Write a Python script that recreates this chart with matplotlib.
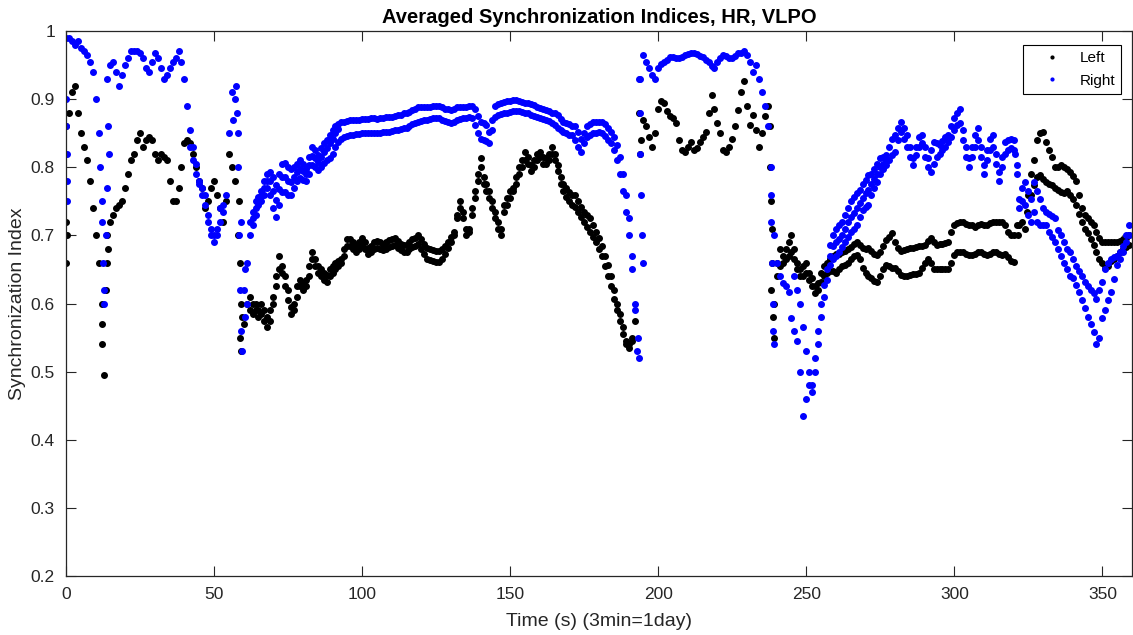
import numpy as np
import matplotlib
matplotlib.use("Agg")
import matplotlib.pyplot as plt

plt.rcParams['font.family'] = ['Liberation Sans', 'DejaVu Sans']

# ---------------- data ----------------
# LEFT (black) traces: start second + values at 1 s steps
left_main_1_start = 0
left_main_1 = [0.86, 0.88, 0.91, 0.92, 0.88, 0.85, 0.83, 0.81, 0.78, 0.74, 0.70, 0.66, 0.60]
left_main_2_start = 14
left_main_2 = [0.70, 0.72, 0.73, 0.74, 0.745, 0.75, 0.77, 0.79, 0.81, 0.82,
               0.84, 0.85, 0.83, 0.84, 0.845, 0.84, 0.82, 0.81, 0.82, 0.815,
               0.81, 0.78, 0.75, 0.75, 0.77, 0.80, 0.835, 0.84, 0.835, 0.82,
               0.80, 0.78, 0.77, 0.74, 0.75, 0.77, 0.78, 0.76, 0.74, 0.72,
               0.75, 0.82, 0.80, 0.78]
left_main_3_start = 58
left_main_3 = [0.70, 0.60, 0.57, 0.60,
               0.61, 0.60, 0.60, 0.59, 0.60, 0.59, 0.58, 0.59, 0.61, 0.64,
               0.67, 0.655, 0.64, 0.62, 0.595, 0.60, 0.625, 0.635, 0.63, 0.635,
               0.655, 0.675, 0.665, 0.655, 0.65, 0.645, 0.642, 0.65, 0.655, 0.66,
               0.662, 0.665, 0.68, 0.695, 0.695, 0.69, 0.686, 0.69, 0.696, 0.69,
               0.681, 0.685, 0.69, 0.692, 0.69, 0.688, 0.69, 0.693, 0.695, 0.696,
               0.692, 0.688, 0.686, 0.686, 0.69, 0.694, 0.696, 0.70, 0.695, 0.688,
               0.681, 0.68, 0.678, 0.677, 0.677, 0.68, 0.685, 0.69, 0.698, 0.705,
               0.73, 0.75, 0.735, 0.71, 0.71, 0.74, 0.765, 0.79, 0.813, 0.785,
               0.775, 0.765, 0.75, 0.735, 0.72, 0.71, 0.745, 0.755, 0.765, 0.77,
               0.785, 0.80, 0.81, 0.823, 0.815, 0.803, 0.81, 0.82, 0.823, 0.815,
               0.813, 0.82, 0.83, 0.82, 0.803, 0.785, 0.775, 0.77, 0.764, 0.76,
               0.759, 0.75, 0.742, 0.735, 0.73, 0.725, 0.715, 0.705, 0.696, 0.685,
               0.67, 0.656, 0.64, 0.62, 0.60, 0.585, 0.565, 0.545, 0.54, 0.55,
               0.575]
left_main_4_start = 195
left_main_4 = [0.87, 0.86, 0.845, 0.83, 0.85, 0.885, 0.897, 0.895, 0.882, 0.875,
               0.872, 0.865, 0.84, 0.825, 0.823, 0.83, 0.837, 0.825, 0.828, 0.837,
               0.845, 0.852, 0.88, 0.906, 0.885, 0.865, 0.85, 0.825, 0.822, 0.83,
               0.842, 0.86, 0.884, 0.91, 0.926, 0.89, 0.862, 0.877, 0.855, 0.83,
               0.85, 0.875, 0.89]
left_main_5_start = 238
left_main_5 = [0.62, 0.60, 0.66, 0.68, 0.67, 0.68, 0.69, 0.70, 0.68, 0.66,
               0.65, 0.655, 0.66, 0.645, 0.637, 0.625, 0.63, 0.645, 0.655, 0.66,
               0.666, 0.67, 0.672, 0.672, 0.675, 0.677, 0.68, 0.683, 0.687, 0.69,
               0.686, 0.682, 0.68, 0.681, 0.677, 0.673, 0.671, 0.676, 0.685, 0.693,
               0.698, 0.703, 0.69, 0.682, 0.677, 0.678, 0.68, 0.681, 0.682, 0.683,
               0.684, 0.685, 0.686, 0.692, 0.696, 0.69, 0.686, 0.687, 0.688, 0.689,
               0.69, 0.705, 0.715, 0.718, 0.72, 0.72, 0.717, 0.715, 0.715, 0.713,
               0.715, 0.717, 0.715, 0.715, 0.718, 0.72, 0.719, 0.72, 0.72, 0.715,
               0.705, 0.70, 0.70]
left_main_6_start = 322
left_main_6 = [0.715, 0.72, 0.71, 0.76, 0.79, 0.81, 0.84, 0.85, 0.852, 0.837,
               0.825, 0.815, 0.80, 0.80, 0.803, 0.80, 0.797, 0.793, 0.787, 0.78,
               0.76, 0.74, 0.73, 0.725, 0.72, 0.715, 0.705, 0.696, 0.69, 0.69,
               0.69, 0.69, 0.69, 0.69, 0.692, 0.695, 0.696, 0.70]
left_sub_1_start = 62
left_sub_1 = [0.59, 0.585, 0.59, 0.58, 0.585, 0.575, 0.565, 0.575, 0.60, 0.625,
              0.65, 0.645, 0.625, 0.605, 0.585, 0.59, 0.61, 0.625, 0.62, 0.625,
              0.64, 0.665, 0.655, 0.645, 0.64, 0.635, 0.632, 0.64, 0.645, 0.65,
              0.655, 0.66, 0.67, 0.685, 0.685, 0.68, 0.676, 0.68, 0.685, 0.68,
              0.672, 0.675, 0.68, 0.682, 0.68, 0.678, 0.68, 0.683, 0.685, 0.686,
              0.682, 0.678, 0.676, 0.676, 0.68, 0.683, 0.685, 0.688, 0.68, 0.672,
              0.666, 0.664, 0.662, 0.661, 0.661, 0.665, 0.672, 0.682, 0.69, 0.70,
              0.725, 0.74, 0.725, 0.70, 0.705, 0.73, 0.755, 0.78, 0.80, 0.775,
              0.765, 0.755, 0.74, 0.725, 0.71, 0.70, 0.735, 0.745, 0.755, 0.765,
              0.775, 0.79, 0.80, 0.81, 0.805, 0.795, 0.80, 0.81, 0.815, 0.805,
              0.805, 0.81, 0.82, 0.81, 0.795, 0.775, 0.765, 0.757, 0.75, 0.745,
              0.742, 0.735, 0.727, 0.72, 0.712, 0.705, 0.698, 0.69, 0.68, 0.67,
              0.655, 0.64, 0.625, 0.607, 0.59, 0.575, 0.555, 0.54, 0.535, 0.545]
left_sub_2_start = 240
left_sub_2 = [0.64, 0.655, 0.66, 0.665, 0.67, 0.675, 0.665, 0.65, 0.64, 0.64,
              0.645, 0.635, 0.625, 0.615, 0.62, 0.632, 0.64, 0.645, 0.647, 0.647,
              0.645, 0.65, 0.655, 0.656, 0.66, 0.665, 0.67, 0.671, 0.665, 0.652,
              0.645, 0.64, 0.637, 0.633, 0.632, 0.64, 0.65, 0.656, 0.655, 0.652,
              0.652, 0.648, 0.642, 0.64, 0.641, 0.642, 0.643, 0.644, 0.645, 0.652,
              0.66, 0.666, 0.66, 0.65, 0.65, 0.65, 0.65, 0.65, 0.65, 0.66,
              0.671, 0.675, 0.676, 0.676, 0.672, 0.671, 0.671, 0.673, 0.676, 0.676,
              0.673, 0.671, 0.673, 0.676, 0.675, 0.673, 0.671, 0.672, 0.668, 0.663,
              0.661]
left_sub_3_start = 326
left_sub_3 = [0.76, 0.774, 0.785, 0.789, 0.783, 0.779, 0.776, 0.774, 0.77, 0.766,
              0.764, 0.762, 0.765, 0.76, 0.754, 0.745, 0.732, 0.72, 0.71, 0.703,
              0.695, 0.686, 0.675, 0.666, 0.66, 0.652, 0.655, 0.662, 0.666, 0.67,
              0.675, 0.68, 0.683, 0.686]
left_extra_t = [0, 0, 0.5, 12, 12.3, 12.8, 13.5, 13.8, 14.2, 58.3, 58.6, 58.8,
                59.2, 59.5, 193.5, 193.8, 194.2, 237.6, 237.9, 238.1, 238.3,
                238.5, 238.7, 239, 321, 321.5, 324.5]
left_extra_v = [0.72, 0.66, 0.70, 0.57, 0.54, 0.495, 0.62, 0.66, 0.68, 0.75, 0.66, 0.55,
                0.53, 0.58, 0.88, 0.82, 0.84, 0.86, 0.80, 0.75, 0.71,
                0.66, 0.58, 0.55, 0.715, 0.70, 0.735]

# RIGHT (blue) traces
right_main_1_start = 0
right_main_1 = [0.99, 0.99, 0.985, 0.98, 0.985, 0.975, 0.97, 0.965, 0.955, 0.94, 0.90, 0.85, 0.75, 0.62]
right_main_2_start = 14
right_main_2 = [0.93, 0.95, 0.955, 0.94, 0.92, 0.935, 0.95, 0.96, 0.97, 0.97,
                0.97, 0.968, 0.96, 0.945, 0.94, 0.955, 0.968, 0.96, 0.945, 0.93,
                0.935, 0.945, 0.955, 0.96, 0.97, 0.955, 0.93, 0.89, 0.855, 0.83,
                0.805, 0.78, 0.77, 0.76, 0.73, 0.71, 0.70, 0.71, 0.74, 0.745,
                0.76, 0.85, 0.91, 0.90, 0.85, 0.72, 0.62, 0.60]
right_main_3_start = 62
right_main_3 = [0.72, 0.735, 0.75, 0.757, 0.765, 0.78, 0.79, 0.793, 0.785, 0.774,
                0.79, 0.805, 0.806, 0.80, 0.798, 0.80, 0.805, 0.81, 0.805, 0.798,
                0.815, 0.83, 0.825, 0.818, 0.828, 0.835, 0.84, 0.848, 0.855, 0.86,
                0.864, 0.866, 0.867, 0.868, 0.869, 0.869, 0.87, 0.87, 0.871, 0.871,
                0.871, 0.872, 0.872, 0.871, 0.873, 0.873, 0.874, 0.874, 0.874, 0.875,
                0.876, 0.877, 0.879, 0.879, 0.881, 0.884, 0.886, 0.888, 0.889, 0.889,
                0.888, 0.889, 0.89, 0.89, 0.89, 0.888, 0.886, 0.885, 0.884, 0.886,
                0.888, 0.889, 0.889, 0.889, 0.89, 0.89, 0.885, 0.875, 0.867, 0.865,
                0.862, 0.852, 0.87, 0.89, 0.893, 0.895, 0.896, 0.897, 0.897, 0.898,
                0.898, 0.897, 0.896, 0.895, 0.894, 0.893, 0.891, 0.889, 0.887, 0.885,
                0.884, 0.882, 0.88, 0.879, 0.876, 0.871, 0.867, 0.865, 0.863, 0.861,
                0.86, 0.852, 0.842, 0.85, 0.86, 0.864, 0.866, 0.867, 0.867, 0.866,
                0.864, 0.858, 0.852, 0.845, 0.832, 0.815, 0.79, 0.76, 0.725, 0.67,
                0.60, 0.53]
right_main_4_start = 194
right_main_4 = [0.93, 0.965, 0.955, 0.945, 0.935, 0.93, 0.945, 0.952, 0.955, 0.958,
                0.962, 0.962, 0.96, 0.96, 0.962, 0.965, 0.966, 0.967, 0.967, 0.966,
                0.963, 0.962, 0.958, 0.955, 0.948, 0.945, 0.955, 0.96, 0.965, 0.963,
                0.96, 0.96, 0.964, 0.967, 0.968, 0.97, 0.965, 0.955, 0.94, 0.95,
                0.93, 0.91, 0.89, 0.86, 0.80]
right_main_5_start = 239
right_main_5 = [0.70, 0.66, 0.64, 0.63, 0.625, 0.617, 0.578, 0.56, 0.545, 0.50,
                0.435, 0.46, 0.48, 0.47, 0.52, 0.56, 0.60, 0.627, 0.65, 0.686,
                0.70, 0.71, 0.715, 0.72, 0.73, 0.74, 0.75, 0.757, 0.762, 0.767,
                0.775, 0.782, 0.789, 0.79, 0.798, 0.805, 0.813, 0.815, 0.818, 0.83,
                0.842, 0.847, 0.858, 0.867, 0.858, 0.847, 0.83, 0.813, 0.83, 0.845,
                0.847, 0.83, 0.813, 0.825, 0.837, 0.835, 0.832, 0.838, 0.844, 0.847,
                0.86, 0.872, 0.88, 0.886, 0.855, 0.83, 0.813, 0.83, 0.847, 0.857,
                0.83, 0.803, 0.825, 0.842, 0.847, 0.82, 0.793, 0.815, 0.837, 0.84,
                0.842, 0.84, 0.803, 0.754, 0.77, 0.779, 0.765, 0.754, 0.779, 0.765,
                0.754, 0.74, 0.735, 0.732, 0.728, 0.725, 0.708, 0.70, 0.69, 0.68,
                0.676, 0.665, 0.655, 0.647, 0.64, 0.632, 0.625, 0.62, 0.615, 0.607,
                0.62, 0.632, 0.65, 0.66, 0.666, 0.668, 0.67, 0.675, 0.685, 0.70,
                0.715]
right_sub_1_start = 42
right_sub_1 = [0.83, 0.81, 0.79, 0.775, 0.76, 0.745, 0.72, 0.70, 0.69, 0.70, 0.72, 0.735]
right_sub_2_start = 62
right_sub_2 = [0.70, 0.715, 0.73, 0.745, 0.75, 0.76, 0.769, 0.76, 0.74, 0.727,
               0.745, 0.764, 0.763, 0.76, 0.76, 0.77, 0.78, 0.784, 0.782, 0.78,
               0.79, 0.803, 0.80, 0.796, 0.80, 0.806, 0.81, 0.813, 0.82, 0.83,
               0.837, 0.841, 0.844, 0.846, 0.847, 0.848, 0.849, 0.849, 0.85, 0.85,
               0.85, 0.85, 0.85, 0.851, 0.851, 0.852, 0.852, 0.852, 0.853, 0.854,
               0.855, 0.856, 0.857, 0.858, 0.86, 0.863, 0.865, 0.867, 0.868, 0.869,
               0.87, 0.871, 0.872, 0.872, 0.872, 0.87, 0.868, 0.866, 0.865, 0.867,
               0.869, 0.871, 0.872, 0.873, 0.874, 0.872, 0.862, 0.85, 0.842, 0.84,
               0.838, 0.835, 0.855, 0.874, 0.876, 0.878, 0.879, 0.88, 0.881, 0.882,
               0.882, 0.882, 0.881, 0.88, 0.879, 0.877, 0.875, 0.874, 0.872, 0.871,
               0.87, 0.868, 0.865, 0.862, 0.858, 0.855, 0.852, 0.85, 0.848, 0.847,
               0.84, 0.83, 0.823, 0.835, 0.845, 0.848, 0.85, 0.851, 0.852, 0.85,
               0.846, 0.84, 0.835, 0.825, 0.81, 0.79, 0.765, 0.735, 0.70, 0.65,
               0.59]
right_sub_3_start = 246
right_sub_3 = [0.64, 0.62, 0.60, 0.565, 0.53, 0.50, 0.48, 0.50, 0.54, 0.58,
               0.61, 0.635, 0.656, 0.665, 0.67, 0.675, 0.683, 0.69, 0.697, 0.705,
               0.71, 0.715, 0.727, 0.737, 0.742, 0.745, 0.76, 0.77, 0.779, 0.79,
               0.797, 0.803, 0.81, 0.818, 0.823, 0.84, 0.852, 0.842, 0.83, 0.815,
               0.803, 0.818, 0.83, 0.835, 0.815, 0.80, 0.793, 0.805, 0.815, 0.82,
               0.825, 0.83, 0.837, 0.845, 0.855, 0.862, 0.865, 0.84, 0.815, 0.80,
               0.815, 0.83, 0.84, 0.815, 0.79, 0.81, 0.825, 0.83, 0.805, 0.78,
               0.80, 0.82, 0.825, 0.828, 0.825, 0.79, 0.74, 0.75, 0.745, 0.73,
               0.72, 0.735, 0.72, 0.715, 0.715, 0.715, 0.705, 0.697, 0.69, 0.68,
               0.67, 0.66, 0.65, 0.64, 0.637, 0.627, 0.617, 0.605, 0.593, 0.58,
               0.57, 0.558, 0.541, 0.55, 0.578, 0.59, 0.605, 0.617, 0.636, 0.656,
               0.665, 0.676, 0.69, 0.70]
right_mid_1_start = 63
right_mid_1 = [0.725, 0.74, 0.75, 0.758, 0.77, 0.78, 0.78, 0.765, 0.752, 0.768,
               0.785, 0.786, 0.78, 0.779, 0.785, 0.793, 0.797, 0.794, 0.79, 0.803,
               0.817, 0.813, 0.808, 0.815, 0.822, 0.828, 0.835, 0.842, 0.85, 0.856]
right_mid_2_start = 258
right_mid_2 = [0.67, 0.685, 0.69, 0.695, 0.70, 0.71, 0.72, 0.727, 0.733, 0.74,
               0.747, 0.755, 0.762, 0.767, 0.775, 0.783, 0.79, 0.80, 0.805, 0.81]
right_extra_t = [0, 0, 0.3, 0.5, 0.4, 11.5, 12, 12.5, 13, 13.5, 13.8, 14.2, 14.5,
                 56.5, 57.3, 57.6, 58, 58.3, 58.7, 59, 59.3, 60.3, 60.6, 61.2,
                 193.6, 193.8, 194.0, 194.3, 194.5, 194.7, 193.2, 193.4,
                 238.0, 238.2, 238.5, 238.7, 238.9, 239.2, 320.5]
right_extra_v = [0.90, 0.86, 0.82, 0.78, 0.75, 0.80, 0.72, 0.66, 0.60, 0.70, 0.77, 0.86, 0.82,
                 0.87, 0.92, 0.88, 0.80, 0.70, 0.62, 0.56, 0.53, 0.65, 0.58, 0.66,
                 0.93, 0.88, 0.82, 0.76, 0.70, 0.66, 0.55, 0.52,
                 0.76, 0.72, 0.66, 0.60, 0.56, 0.54, 0.82]

x_ticks = [0, 50, 100, 150, 200, 250, 300, 350]
y_ticks = [0.2, 0.3, 0.4, 0.5, 0.6, 0.7, 0.8, 0.9, 1.0]
y_tick_labels = ['0.2', '0.3', '0.4', '0.5', '0.6', '0.7', '0.8', '0.9', '1']

left_traces = [
    (left_main_1_start, left_main_1), (left_main_2_start, left_main_2),
    (left_main_3_start, left_main_3), (left_main_4_start, left_main_4),
    (left_main_5_start, left_main_5), (left_main_6_start, left_main_6),
    (left_sub_1_start, left_sub_1), (left_sub_2_start, left_sub_2),
    (left_sub_3_start, left_sub_3),
]
right_traces = [
    (right_main_1_start, right_main_1), (right_main_2_start, right_main_2),
    (right_main_3_start, right_main_3), (right_main_4_start, right_main_4),
    (right_main_5_start, right_main_5), (right_sub_1_start, right_sub_1),
    (right_sub_2_start, right_sub_2), (right_sub_3_start, right_sub_3),
    (right_mid_1_start, right_mid_1), (right_mid_2_start, right_mid_2),
]

# ---------------- figure ----------------
W, H = 1133, 635
fig = plt.figure(figsize=(W / 100, H / 100), dpi=100)
ax = fig.add_axes([66 / W, 59 / H, (1132 - 66) / W, (576 - 31) / H])

BLACK = '#000000'
BLUE = '#0000FF'
MS = 8

def tarr(start, vals):
    return start + np.arange(len(vals))

first = True
for s, v in left_traces:
    ax.plot(tarr(s, v), v, linestyle='none', marker='.', ms=MS, color=BLACK,
            label='Left' if first else None)
    first = False
ax.plot(left_extra_t, left_extra_v, linestyle='none', marker='.', ms=MS, color=BLACK)

first = True
for s, v in right_traces:
    ax.plot(tarr(s, v), v, linestyle='none', marker='.', ms=MS, color=BLUE,
            label='Right' if first else None)
    first = False
ax.plot(right_extra_t, right_extra_v, linestyle='none', marker='.', ms=MS, color=BLUE)

ax.set_xlim(0, 360)
ax.set_ylim(0.2, 1.0)
ax.set_xticks(x_ticks)
ax.set_yticks(y_ticks)
ax.set_yticklabels(y_tick_labels)

GRAY = '#262626'
for sp in ax.spines.values():
    sp.set_color(GRAY)
    sp.set_linewidth(0.9)
ax.tick_params(direction='in', length=7.5, width=0.8, colors=GRAY,
               labelsize=12.5, top=True, right=True, pad=8)

ax.set_title('Averaged Synchronization Indices, HR, VLPO', fontsize=14.5,
             fontweight='bold', color='#000000', pad=6)
ax.set_xlabel('Time (s) (3min=1day)', fontsize=14, color=GRAY, labelpad=8)
ax.set_ylabel('Synchronization Index', fontsize=14, color=GRAY, labelpad=3)

leg = ax.legend(loc='upper right', bbox_to_anchor=((1121 - 66) / 1066, (576 - 45) / 545),
                fontsize=11, frameon=True, fancybox=False, framealpha=1,
                edgecolor='#000000', handlelength=3.0, handletextpad=0.3,
                borderpad=0.4, labelspacing=0.55, markerscale=0.5, borderaxespad=0)
leg.get_frame().set_linewidth(0.8)

fig.savefig('out.png', dpi=100)
